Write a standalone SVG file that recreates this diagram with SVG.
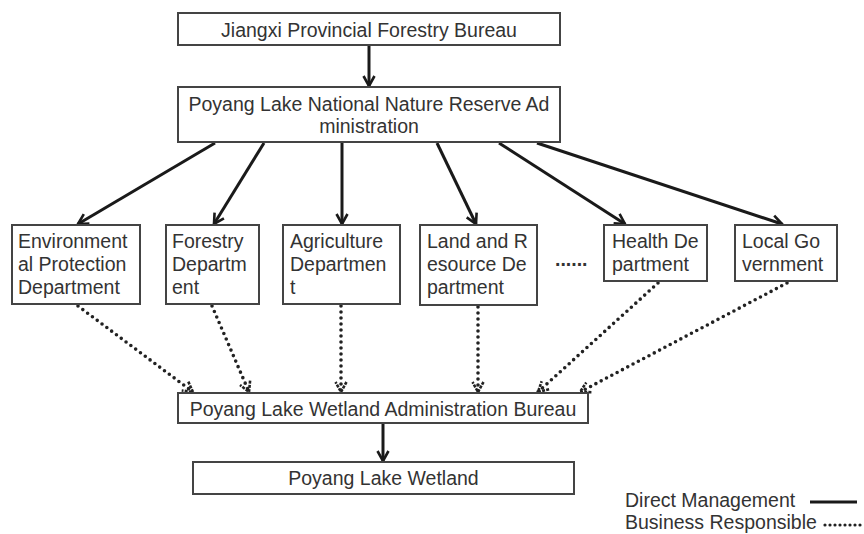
<svg xmlns="http://www.w3.org/2000/svg" width="864" height="534" viewBox="0 0 864 534">
  <style>
    .box { fill: #ffffff; stroke: #444444; stroke-width: 2; }
    .t { font-family: "Liberation Sans", Arial, sans-serif; font-size: 19.5px; fill: #333333; }
    .c { text-anchor: middle; }
    .direct { stroke: #1a1a1a; stroke-width: 3; fill: none; marker-end: url(#ah); }
    .biz { stroke: #222222; stroke-width: 3.6; fill: none; stroke-dasharray: 0 6; stroke-linecap: round; marker-end: url(#ahd); }
  </style>
  <defs>
    <marker id="ah" viewBox="0 0 14 14" refX="12" refY="7" markerWidth="14" markerHeight="14" markerUnits="userSpaceOnUse" orient="auto">
      <path d="M2,1.5 L12,7 L2,12.5" fill="none" stroke="#1a1a1a" stroke-width="2.6"/>
    </marker>
    <marker id="ahd" viewBox="0 0 14 14" refX="12" refY="7" markerWidth="14" markerHeight="14" markerUnits="userSpaceOnUse" orient="auto">
      <path d="M2,1.5 L12,7 L2,12.5" fill="none" stroke="#222222" stroke-width="2.6" stroke-dasharray="3 1.2"/>
    </marker>
  </defs>
  <rect x="0" y="0" width="864" height="534" fill="#ffffff"/>

  <g id="connectors">
    <line class="direct" x1="369" y1="46" x2="369" y2="86"/>
    <line class="direct" x1="215" y1="143" x2="78" y2="224"/>
    <line class="direct" x1="264" y1="143" x2="214" y2="224"/>
    <line class="direct" x1="342" y1="143" x2="342" y2="224"/>
    <line class="direct" x1="437" y1="143" x2="476" y2="224"/>
    <line class="direct" x1="499" y1="143" x2="625" y2="224"/>
    <line class="direct" x1="537" y1="143" x2="782" y2="224"/>
    <line class="biz" x1="78" y1="306" x2="193" y2="392"/>
    <line class="biz" x1="212" y1="306" x2="249" y2="392"/>
    <line class="biz" x1="341" y1="306" x2="341" y2="392"/>
    <line class="biz" x1="478" y1="307" x2="478" y2="392"/>
    <line class="biz" x1="658" y1="283" x2="538" y2="392"/>
    <line class="biz" x1="787" y1="283" x2="580" y2="392"/>
    <line class="direct" x1="383" y1="424" x2="383" y2="461"/>
  </g>

  <g id="jiangxi">
    <rect class="box" x="178" y="13" width="382" height="32"/>
    <text class="t c" x="369" y="37">Jiangxi Provincial Forestry Bureau</text>
  </g>
  <g id="reserve">
    <rect class="box" x="178" y="87" width="382" height="55"/>
    <text class="t c" x="369" y="111">Poyang Lake National Nature Reserve Ad</text>
    <text class="t c" x="369" y="133">ministration</text>
  </g>
  <g id="env">
    <rect class="box" x="12" y="225" width="128" height="79"/>
    <text class="t" x="18" y="248">Environment</text>
    <text class="t" x="18" y="271">al Protection</text>
    <text class="t" x="18" y="294">Department</text>
  </g>
  <g id="forestry">
    <rect class="box" x="166" y="225" width="93" height="79"/>
    <text class="t" x="172" y="248">Forestry</text>
    <text class="t" x="172" y="271">Departm</text>
    <text class="t" x="172" y="294">ent</text>
  </g>
  <g id="agri">
    <rect class="box" x="283" y="225" width="117" height="79"/>
    <text class="t" x="290" y="248">Agriculture</text>
    <text class="t" x="290" y="271">Departmen</text>
    <text class="t" x="290" y="294">t</text>
  </g>
  <g id="land">
    <rect class="box" x="420" y="225" width="117" height="80"/>
    <text class="t" x="427" y="248">Land and R</text>
    <text class="t" x="427" y="271">esource De</text>
    <text class="t" x="427" y="294">partment</text>
  </g>
  <text class="t" x="555" y="266" style="font-weight:bold">......</text>
  <g id="health">
    <rect class="box" x="604" y="225" width="103" height="56"/>
    <text class="t" x="612" y="248">Health De</text>
    <text class="t" x="612" y="271">partment</text>
  </g>
  <g id="local">
    <rect class="box" x="735" y="225" width="102" height="56"/>
    <text class="t" x="742" y="248">Local Go</text>
    <text class="t" x="742" y="271">vernment</text>
  </g>
  <g id="wetland-admin">
    <rect class="box" x="178" y="393" width="410" height="30"/>
    <text class="t c" x="383" y="416">Poyang Lake Wetland Administration Bureau</text>
  </g>
  <g id="wetland">
    <rect class="box" x="193" y="462" width="381" height="32"/>
    <text class="t c" x="383.5" y="485">Poyang Lake Wetland</text>
  </g>

  <g id="legend">
    <text class="t" x="625" y="507">Direct Management</text>
    <line x1="810" y1="502" x2="857" y2="502" stroke="#1a1a1a" stroke-width="3"/>
    <text class="t" x="625" y="529">Business Responsible</text>
    <line x1="825" y1="525" x2="862" y2="525" stroke="#222222" stroke-width="3.2" stroke-dasharray="0 5" stroke-linecap="round"/>
  </g>
</svg>
